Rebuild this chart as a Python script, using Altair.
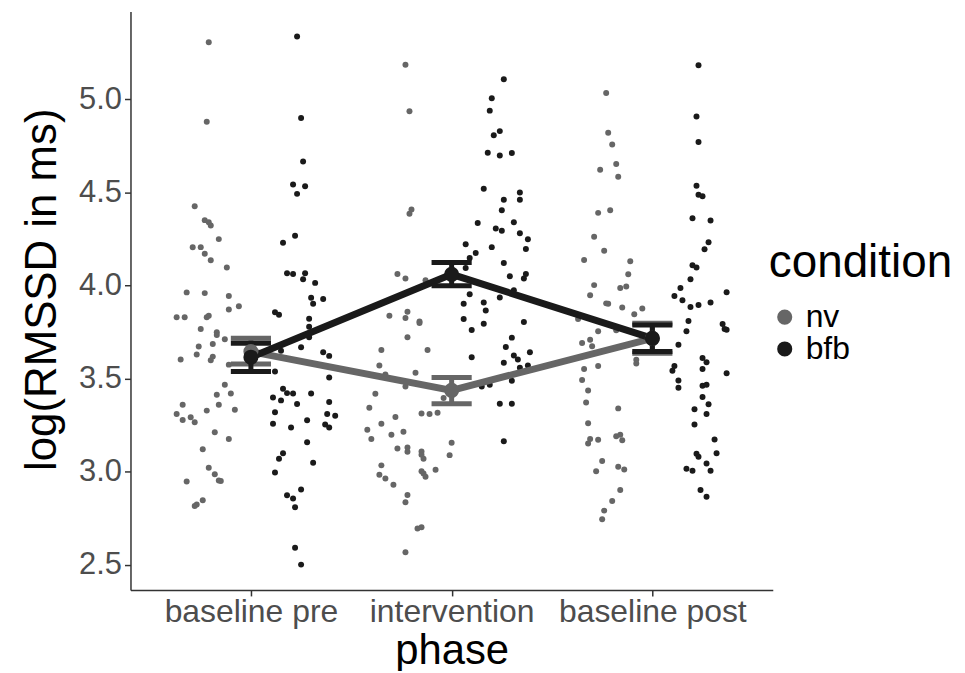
import altair as alt
import pandas as pd

phases = ["baseline pre", "intervention", "baseline post"]
conditions = ["nv", "bfb"]
colors = ["#666666", "#1a1a1a"]

# ---- raw observations (log RMSSD) and horizontal jitter (in phase units) ----
nv_pre = [5.306, 4.879, 4.426, 4.351, 4.340, 4.322, 4.249, 4.205, 4.206, 4.171, 4.135, 4.096,
          3.963, 3.959, 3.944, 3.871, 3.888, 3.829, 3.829, 3.829, 3.837, 3.766, 3.749, 3.734,
          3.686, 3.711, 3.672, 3.629, 3.618, 3.599, 3.602, 3.575, 3.467, 3.413, 3.420, 3.360,
          3.360, 3.328, 3.333, 3.310, 3.278, 3.292, 3.265, 3.212, 3.176, 3.121, 3.021, 2.986,
          2.953, 2.950, 2.947, 2.816, 2.824, 2.847]
nv_pre_jit = [-0.21, -0.22, -0.28, -0.23, -0.21, -0.20, -0.16, -0.29, -0.25, -0.23, -0.20, -0.12,
              -0.32, -0.23, -0.11, -0.11, -0.06, -0.37, -0.33, -0.22, -0.21, -0.25, -0.17, -0.17,
              -0.19, -0.13, -0.26, -0.27, -0.19, -0.20, -0.35, -0.11, -0.13, -0.17, -0.10, -0.34,
              -0.16, -0.22, -0.08, -0.37, -0.34, -0.30, -0.28, -0.18, -0.11, -0.24, -0.21, -0.18,
              -0.16, -0.15, -0.32, -0.28, -0.27, -0.24]

bfb_pre = [5.337, 4.900, 4.666, 4.542, 4.533, 4.492, 4.267, 4.230, 4.066, 4.062, 4.066, 4.034,
           4.014, 3.934, 3.927, 3.902, 3.856, 3.843, 3.821, 3.779, 3.722, 3.668, 3.650, 3.642,
           3.622, 3.506, 3.538, 3.445, 3.422, 3.420, 3.420, 3.399, 3.383, 3.364, 3.374, 3.319,
           3.310, 3.301, 3.276, 3.257, 3.237, 3.253, 3.237, 3.158, 3.099, 3.069, 3.048, 2.996,
           2.904, 2.873, 2.856, 2.809, 2.591, 2.501]
bfb_pre_jit = [0.23, 0.25, 0.26, 0.21, 0.27, 0.23, 0.22, 0.16, 0.18, 0.21, 0.27, 0.26,
               0.32, 0.30, 0.36, 0.31, 0.12, 0.14, 0.29, 0.29, 0.29, 0.25, 0.15, 0.36,
               0.39, 0.39, 0.12, 0.16, 0.18, 0.21, 0.30, 0.11, 0.15, 0.23, 0.39, 0.12,
               0.38, 0.42, 0.28, 0.11, 0.20, 0.37, 0.39, 0.28, 0.16, 0.14, 0.31, 0.12,
               0.25, 0.18, 0.21, 0.22, 0.22, 0.25]

nv_int = [5.185, 4.936, 4.408, 4.385, 4.062, 4.037, 4.028, 3.859, 3.837, 3.825, 3.807, 3.798,
          3.722, 3.654, 3.654, 3.570, 3.531, 3.522, 3.458, 3.419, 3.396, 3.344, 3.313, 3.310,
          3.316, 3.294, 3.258, 3.225, 3.176, 3.199, 3.215, 3.155, 3.125, 3.130, 3.107, 3.109,
          3.091, 3.070, 3.089, 3.034, 2.984, 2.964, 2.930, 3.003, 2.991, 2.973, 3.011, 2.875,
          2.836, 2.695, 2.702, 2.567]
nv_int_jit = [-0.23, -0.21, -0.20, -0.21, -0.27, -0.23, -0.13, -0.22, -0.31, -0.23, -0.16, -0.16,
              -0.22, -0.35, -0.12, -0.36, -0.18, -0.33, -0.23, -0.38, -0.04, -0.41, -0.15, -0.11,
              -0.07, -0.28, -0.35, -0.42, -0.40, -0.30, -0.24, 0.00, -0.27, -0.22, -0.22, -0.15,
              -0.15, -0.14, -0.01, -0.35, -0.36, -0.33, -0.29, -0.15, -0.14, -0.13, -0.08, -0.22,
              -0.23, -0.17, -0.15, -0.23]

bfb_int = [5.107, 5.005, 4.939, 4.829, 4.807, 4.713, 4.698, 4.711, 4.520, 4.499, 4.460, 4.460,
           4.404, 4.335, 4.339, 4.306, 4.294, 4.281, 4.248, 4.221, 4.206, 4.196, 4.174, 4.148,
           4.094, 4.121, 4.050, 4.062, 4.037, 3.975, 3.953, 3.936, 3.902, 3.909, 3.866, 3.820,
           3.795, 3.761, 3.804, 3.720, 3.670, 3.624, 3.642, 3.602, 3.585, 3.615, 3.558, 3.570,
           3.488, 3.458, 3.467, 3.365, 3.365, 3.164]
bfb_int_jit = [0.26, 0.20, 0.19, 0.24, 0.21, 0.18, 0.24, 0.30, 0.16, 0.34, 0.26, 0.34,
               0.25, 0.13, 0.31, 0.22, 0.25, 0.34, 0.38, 0.07, 0.20, 0.37, 0.12, 0.09,
               0.07, 0.26, 0.29, 0.37, 0.36, 0.31, 0.09, 0.24, 0.06, 0.16, 0.17, 0.06,
               0.16, 0.10, 0.36, 0.30, 0.27, 0.31, 0.39, 0.33, 0.26, 0.10, 0.34, 0.38,
               0.30, 0.15, 0.19, 0.24, 0.30, 0.26]

nv_post = [5.034, 4.820, 4.757, 4.652, 4.622, 4.584, 4.390, 4.404, 4.262, 4.187, 4.137, 4.130,
           4.060, 4.002, 3.948, 3.986, 3.995, 3.904, 3.882, 3.877, 3.845, 3.820, 3.754, 3.759,
           3.709, 3.691, 3.674, 3.601, 3.581, 3.551, 3.568, 3.492, 3.436, 3.372, 3.340, 3.260,
           3.176, 3.151, 3.171, 3.190, 3.199, 3.169, 3.057, 3.003, 3.027, 3.012, 2.902, 2.843,
           2.791, 2.745, 3.902]
nv_post_jit = [-0.23, -0.22, -0.20, -0.18, -0.26, -0.17, -0.27, -0.21, -0.29, -0.24, -0.34, -0.11,
               -0.12, -0.29, -0.31, -0.16, -0.13, -0.23, -0.15, -0.05, -0.09, -0.37, -0.27, -0.18,
               -0.31, -0.35, -0.30, -0.08, -0.08, -0.34, -0.27, -0.35, -0.32, -0.33, -0.17, -0.32,
               -0.31, -0.32, -0.27, -0.18, -0.16, -0.15, -0.25, -0.28, -0.17, -0.14, -0.16, -0.20,
               -0.24, -0.25, -0.22]

bfb_post = [5.183, 4.907, 4.770, 4.536, 4.487, 4.479, 4.361, 4.349, 4.232, 4.194, 4.109, 4.096,
            4.034, 3.987, 3.964, 3.943, 3.921, 3.895, 3.909, 3.884, 3.809, 3.754, 3.793, 3.766,
            3.762, 3.682, 3.568, 3.542, 3.611, 3.588, 3.551, 3.529, 3.490, 3.451, 3.461, 3.467,
            3.401, 3.362, 3.335, 3.310, 3.253, 3.173, 3.096, 3.080, 3.099, 3.044, 3.016, 3.005,
            3.005, 2.902, 2.866]
bfb_post_jit = [0.23, 0.22, 0.23, 0.22, 0.23, 0.25, 0.20, 0.29, 0.28, 0.26, 0.20, 0.22,
                0.19, 0.14, 0.37, 0.11, 0.15, 0.23, 0.29, 0.19, 0.18, 0.17, 0.35, 0.36,
                0.37, 0.13, 0.11, 0.10, 0.25, 0.27, 0.25, 0.37, 0.13, 0.13, 0.25, 0.27,
                0.25, 0.28, 0.21, 0.27, 0.21, 0.31, 0.22, 0.23, 0.32, 0.27, 0.17, 0.20,
                0.29, 0.24, 0.27]

# ---- summary: mean and error-bar limits per phase ----
nv_mean = [3.645, 3.437, 3.716]
nv_lo = [3.578, 3.365, 3.636]
nv_hi = [3.717, 3.506, 3.797]
bfb_mean = [3.615, 4.060, 3.716]
bfb_lo = [3.538, 3.998, 3.645]
bfb_hi = [3.690, 4.123, 3.788]

# ---- build tables ----
rows = []
series = [
    (1, "nv", nv_pre, nv_pre_jit), (1, "bfb", bfb_pre, bfb_pre_jit),
    (2, "nv", nv_int, nv_int_jit), (2, "bfb", bfb_int, bfb_int_jit),
    (3, "nv", nv_post, nv_post_jit), (3, "bfb", bfb_post, bfb_post_jit),
]
for ph, cond, vals, jit in series:
    for v, j in zip(vals, jit):
        rows.append({"phase_idx": ph, "condition": cond, "value": v, "jitter": j})
points = pd.DataFrame(rows)

mrows = []
for cond, m, lo, hi in [("nv", nv_mean, nv_lo, nv_hi), ("bfb", bfb_mean, bfb_lo, bfb_hi)]:
    for i in range(3):
        mrows.append({"phase_idx": i + 1, "condition": cond, "mean": m[i], "lo": lo[i], "hi": hi[i]})
means = pd.DataFrame(mrows)

label_expr = " : ".join(
    [f"datum.value == {i + 1} ? '{p}'" for i, p in enumerate(phases[:-1])]
) + f" : '{phases[-1]}'"

xscale = alt.Scale(domain=[0.4, 3.6], nice=False, zero=False)
yscale = alt.Scale(domain=[2.365, 5.472], nice=False, zero=False)
xaxis = alt.Axis(values=[1, 2, 3], labelExpr=label_expr, labelPadding=1, titlePadding=3,
                 labelFlush=False, labelOverlap=False, labelLimit=400, labelFontSize=32,
                 titleFontSize=42)
yaxis = alt.Axis(values=[2.5, 3.0, 3.5, 4.0, 4.5, 5.0], format=".1f", labelPadding=3,
                 titlePadding=14, labelFontSize=31, titleFontSize=44, titleY=279)
cscale = alt.Scale(domain=conditions, range=colors)


def X(field):
    return alt.X(field, type="quantitative", scale=xscale, axis=xaxis, title="phase")


def Y(field):
    return alt.Y(field, type="quantitative", scale=yscale, axis=yaxis, title="log(RMSSD in ms)")


legend = alt.Legend(title="condition", orient="none", legendX=641, legendY=231,
                    titleFontSize=46, titleFontWeight="normal", titleColor="#000000",
                    titleLimit=400, labelLimit=200,
                    labelFontSize=32, labelColor="#000000", symbolSize=230, symbolType="circle",
                    titlePadding=14, rowPadding=0, labelOffset=5, padding=0,
                    symbolStrokeWidth=0)

pts = alt.Chart(points).transform_calculate(
    xpos="datum.phase_idx + datum.jitter"
).mark_circle(size=36, opacity=1).encode(
    x=X("xpos"), y=Y("value"),
    color=alt.Color("condition:N", scale=cscale, legend=legend),
)

layers = [pts]
nocolor = lambda: alt.Color("condition:N", scale=cscale, legend=None)

for cond in conditions:
    layers.append(
        alt.Chart(means).transform_filter(f"datum.condition == '{cond}'")
        .mark_line(strokeWidth=7, strokeCap="butt")
        .encode(x=X("phase_idx"), y=Y("mean"), color=nocolor())
    )
for cond in conditions:
    base = alt.Chart(means).transform_filter(f"datum.condition == '{cond}'")
    layers.append(base.mark_rule(strokeWidth=5).encode(
        x=X("phase_idx"), y=Y("lo"), y2="hi", color=nocolor()))
    caps = base.transform_calculate(xl="datum.phase_idx - 0.1", xr="datum.phase_idx + 0.1")
    layers.append(caps.mark_rule(strokeWidth=5).encode(
        x=X("xl"), x2="xr", y=Y("lo"), color=nocolor()))
    layers.append(caps.mark_rule(strokeWidth=5).encode(
        x=X("xl"), x2="xr", y=Y("hi"), color=nocolor()))
for cond in conditions:
    layers.append(
        alt.Chart(means).transform_filter(f"datum.condition == '{cond}'")
        .mark_circle(size=230, opacity=1)
        .encode(x=X("phase_idx"), y=Y("mean"), color=nocolor())
    )

chart = alt.layer(*layers).properties(
    width=645, height=581,
    autosize=alt.AutoSizeParams(type="none"),
    padding={"left": 123, "top": 2, "right": 185, "bottom": 80},
).configure(font="Liberation Sans").configure_view(stroke=None).configure_axis(
    grid=False, domainColor="#333333", domainWidth=1.5, tickColor="#333333", tickWidth=1.5,
    tickSize=6, labelColor="#4d4d4d", titleFontWeight="normal", titleColor="#000000",
)

chart.save("out.html", embed_options={"renderer": "svg", "actions": False})
